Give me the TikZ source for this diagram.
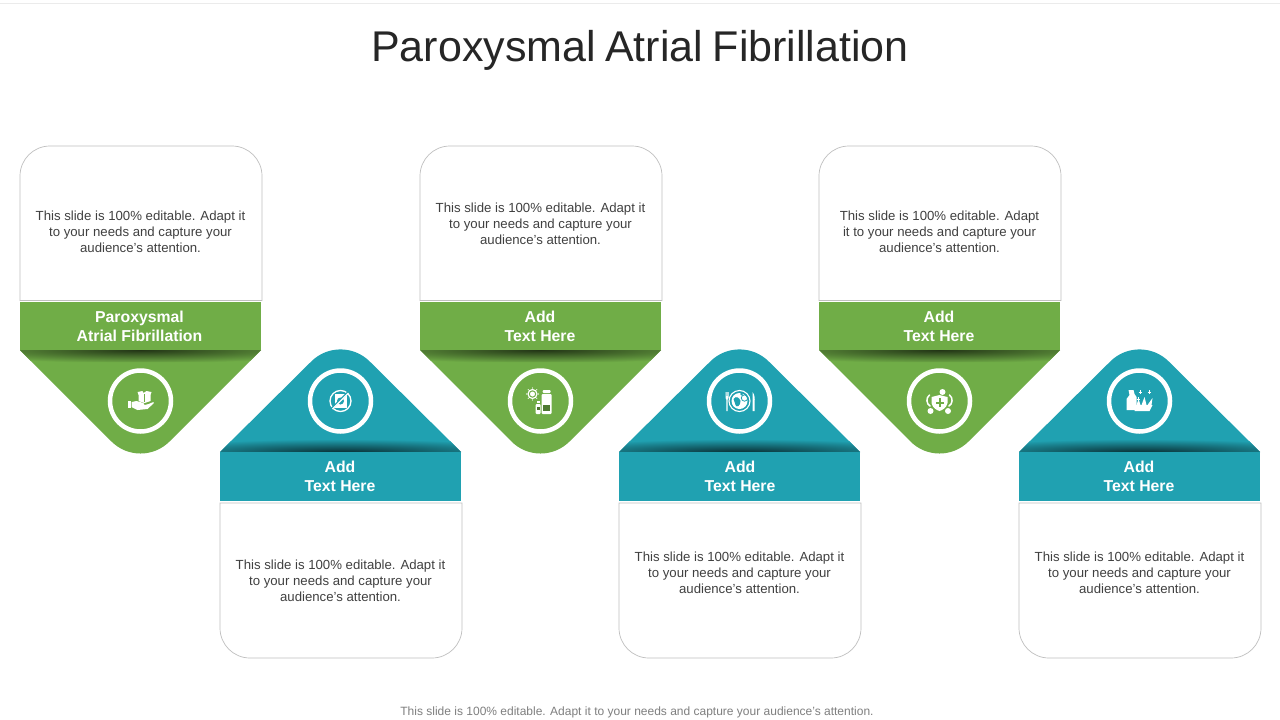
\documentclass[tikz,border=0pt]{standalone}
\usepackage{fontspec}
\setmainfont{Liberation Sans}
\definecolor{panelgreen}{HTML}{70AD47}
\definecolor{panelteal}{HTML}{20A1B1}
\definecolor{bodygray}{HTML}{404040}
\definecolor{titlegray}{HTML}{262626}
\definecolor{footgray}{HTML}{7F7F7F}
\definecolor{linegray}{HTML}{BFBFBF}
\tikzset{x=1pt,y=-1pt,
      bodytext/.style={ % Text inside the white boxes
      align=center,
      text=bodygray,
      font=\fontsize{13.2}{16}\selectfont},
      bandtext/.style={ % White heading on the coloured band
      align=center,
      text=white,
      font=\fontsize{15.8}{19}\selectfont\bfseries},
      ring/.style={
      circle,
      draw=white,
      line width=4.5pt,
      minimum size=61pt}}

\begin{document}
\begin{tikzpicture}
      \useasboundingbox (0,0) rectangle (1280,720);
      \fill[white] (0,0) rectangle (1280,720);
      \draw[black!8, line width=1pt] (0,3) -- (1280,3);
      \node[text=titlegray, font=\fontsize{43}{50}\selectfont] (title) at (640,50.5) {\spaceskip=9.5pt\relax Paroxysmal Atrial Fibrillation};

      % panels hanging down, green
      \foreach \px/\name in {20/a,420/c,819/e} {
            \begin{scope}[shift={(\px,0)}]
                  \draw[linegray, line width=0.7pt] (0,300.5) -- (0,176) arc[start angle=180, end angle=270, radius=30] -- (212,146) arc[start angle=270, end angle=360, radius=30] -- (242,300.5) -- cycle;
                  \fill[panelgreen, rounded corners=41pt] (0,350) -- (120.5,470.5) -- (241,350);
                  \begin{scope}
                        \clip (0,350) -- (241,350) -- (229,362) -- (12,362) -- cycle;
                        \shade[inner color=black!70!panelgreen, outer color=panelgreen] (120.5,350) ellipse[x radius=200, y radius=13];
                  \end{scope}
                  \fill[panelgreen] (0,302) rectangle (241,350);
                  \node[ring] (ring\name) at (120.5,401) {};
            \end{scope}
      }
      % panels standing up, teal
      \foreach \px/\name in {220/b,619/d,1019/f} {
            \begin{scope}[shift={(\px,0)}]
                  \draw[linegray, line width=0.7pt] (0,503) -- (242,503) -- (242,628) arc[start angle=0, end angle=90, radius=30] -- (30,658) arc[start angle=90, end angle=180, radius=30] -- cycle;
                  \fill[panelteal, rounded corners=41pt] (0,452) -- (120.5,332.5) -- (241,452);
                  \begin{scope}
                        \clip (0,452) -- (241,452) -- (229,440) -- (12,440) -- cycle;
                        \shade[inner color=black!70!panelteal, outer color=panelteal] (120.5,452) ellipse[x radius=200, y radius=13];
                  \end{scope}
                  \fill[panelteal] (0,452) rectangle (241,501);
                  \node[ring] (ring\name) at (120.5,401) {};
            \end{scope}
      }

      % icons
      \begin{scope}[shift={(ringa)}]
            \fill[white] (-3,-9) -- (2,-10) -- (3,-8) -- (6,-10) -- (11,-9) -- (10,-6) -- (10,0) -- (4,2) -- (-2,0) -- (-2,-6) -- cycle;
            \fill[panelgreen] (3.6,-7) rectangle (4.4,1);
            \fill[white] (-13,0) rectangle (-10,7);
            \fill[white] (-9,1) -- (-4,0) -- (3,2) -- (4,4) -- (8,3) -- (13,1) -- (13,2.5) -- (7,8) -- (-3,9) -- (-9,6) -- cycle;
      \end{scope}
      \begin{scope}[shift={(ringb)}]
            \draw[white, line width=1.3pt] (0,0) circle[radius=10.5];
            \fill[white] (-6,-7) -- (6,-7) -- (6,7) -- (-6,7) -- cycle;
            \fill[panelteal] (0,0) circle[radius=3.5];
            \draw[panelteal, line width=2.4pt] (-9,8) -- (8,-9);
            \draw[white, line width=1.1pt] (-8,8) -- (8,-8);
      \end{scope}
      \begin{scope}[shift={(ringc)}]
            \draw[white, line width=1.2pt] (-8,-7) circle[radius=4.5];
            \fill[white] (-8,-7) circle[radius=2.5];
            \foreach \ang in {0,45,...,315} {
                  \fill[white] (-8,-7) ++(\ang:6) circle[radius=0.7];
            }
            \fill[white, rounded corners=1pt] (2,-11) rectangle (10,-8);
            \fill[white, rounded corners=1pt] (1,-7) rectangle (11,13);
            \fill[panelgreen!70!black] (2.5,4) rectangle (9.5,10);
            \fill[white] (-4,0) rectangle (-1,2);
            \fill[white, rounded corners=1pt] (-5,3) rectangle (0,13);
            \fill[panelgreen!70!black] (-4,6) rectangle (-1,9);
      \end{scope}
      \begin{scope}[shift={(ringd)}]
            \draw[white, line width=1.1pt] (0,0) circle[radius=10.5];
            \fill[white] (0,0) circle[radius=8];
            \fill[panelteal] (-6,-2) .. controls (-3,-6) and (0,-3) .. (1,0) .. controls (1,5) and (-3,7) .. (-4,4) -- cycle;
            \fill[panelteal] (2,-7) circle[radius=1.5];
            \draw[panelteal, line width=0.8pt] (5,-3) circle[radius=3.2];
            \fill[white] (-14,-9) -- (-13.4,-9) -- (-13.4,-5) -- (-12.8,-5) -- (-12.8,-9) -- (-12.2,-9) -- (-12.2,-5) -- (-11.6,-5) -- (-11.6,-9) -- (-11,-9) -- (-11,-3) -- (-11.8,-1.5) -- (-11.8,10) -- (-13.2,10) -- (-13.2,-1.5) -- (-14,-3) -- cycle;
            \fill[white] (13,-9) .. controls (15.5,-6) and (15.5,-2) .. (15,1) -- (15,10) -- (13,10) -- cycle;
      \end{scope}
      \begin{scope}[shift={(ringe)}]
            \fill[white] (-8,-4) -- (0,-6) -- (8,-4) -- (8,2) .. controls (7,7) and (3,9) .. (0,10) .. controls (-3,9) and (-7,7) .. (-8,2) -- cycle;
            \fill[panelgreen] (-1,-3) rectangle (1,6);
            \fill[panelgreen] (-4,0.5) rectangle (4,2.5);
            \fill[white] (3,-9) circle[radius=3];
            \fill[white] (-9,10) circle[radius=3];
            \fill[white] (8.5,10) circle[radius=3];
            \draw[white, line width=1.5pt, line cap=round] (-10,-6) .. controls (-14,-3) and (-13,3) .. (-9.5,5);
            \draw[white, line width=1.5pt, line cap=round] (10,-6) .. controls (14,-3) and (13,3) .. (9.5,5);
      \end{scope}
      \begin{scope}[shift={(ringf)}]
            \fill[white] (-11,-11) -- (-6,-11) -- (-5,-7) -- (-3,-4) -- (-3,9) -- (-13,9) -- (-13,-2) -- (-10,-6) -- cycle;
            \fill[white] (-5,4) -- (13,4) -- (10,10) -- (-5,10) -- cycle;
            \fill[white] (-3,4) -- (-1,-2) -- (1,4) -- cycle;
            \fill[white] (2,4) -- (5,-4) -- (7,4) -- cycle;
            \fill[white] (8,4) -- (13,-3) -- (12,4) -- cycle;
            \foreach \sx/\sy in {1/-9,10/-9,-1/-2} {
                  \draw[white, line width=0.7pt] (\sx-1.8,\sy) -- (\sx+1.8,\sy) (\sx,\sy-1.8) -- (\sx,\sy+1.8);
            }
      \end{scope}

      \node[bodytext] (texta) at (140.5,232) {This slide is 100\% editable. Adapt it\\to your needs and capture your\\audience's attention.};
      \node[bodytext] (textc) at (540.5,224) {This slide is 100\% editable. Adapt it\\to your needs and capture your\\audience's attention.};
      \node[bodytext] (texte) at (939.5,232) {This slide is 100\% editable. Adapt\\it to your needs and capture your\\audience's attention.};
      \node[bodytext] (textb) at (340.5,581) {This slide is 100\% editable. Adapt it\\to your needs and capture your\\audience's attention.};
      \node[bodytext] (textd) at (739.5,573) {This slide is 100\% editable. Adapt it\\to your needs and capture your\\audience's attention.};
      \node[bodytext] (textf) at (1139.5,573) {This slide is 100\% editable. Adapt it\\to your needs and capture your\\audience's attention.};

      \node[bandtext] (banda) at (139.5,326) {Paroxysmal\\Atrial Fibrillation};
      \node[bandtext] (bandc) at (540,326) {Add\\Text Here};
      \node[bandtext] (bande) at (939,326) {Add\\Text Here};
      \node[bandtext] (bandb) at (340,476) {Add\\Text Here};
      \node[bandtext] (bandd) at (740,476) {Add\\Text Here};
      \node[bandtext] (bandf) at (1139,476) {Add\\Text Here};

      \node[text=footgray, font=\fontsize{12}{14}\selectfont] (foot) at (637,712) {This slide is 100\% editable. Adapt it to your needs and capture your audience's attention.};
\end{tikzpicture}
\end{document}
